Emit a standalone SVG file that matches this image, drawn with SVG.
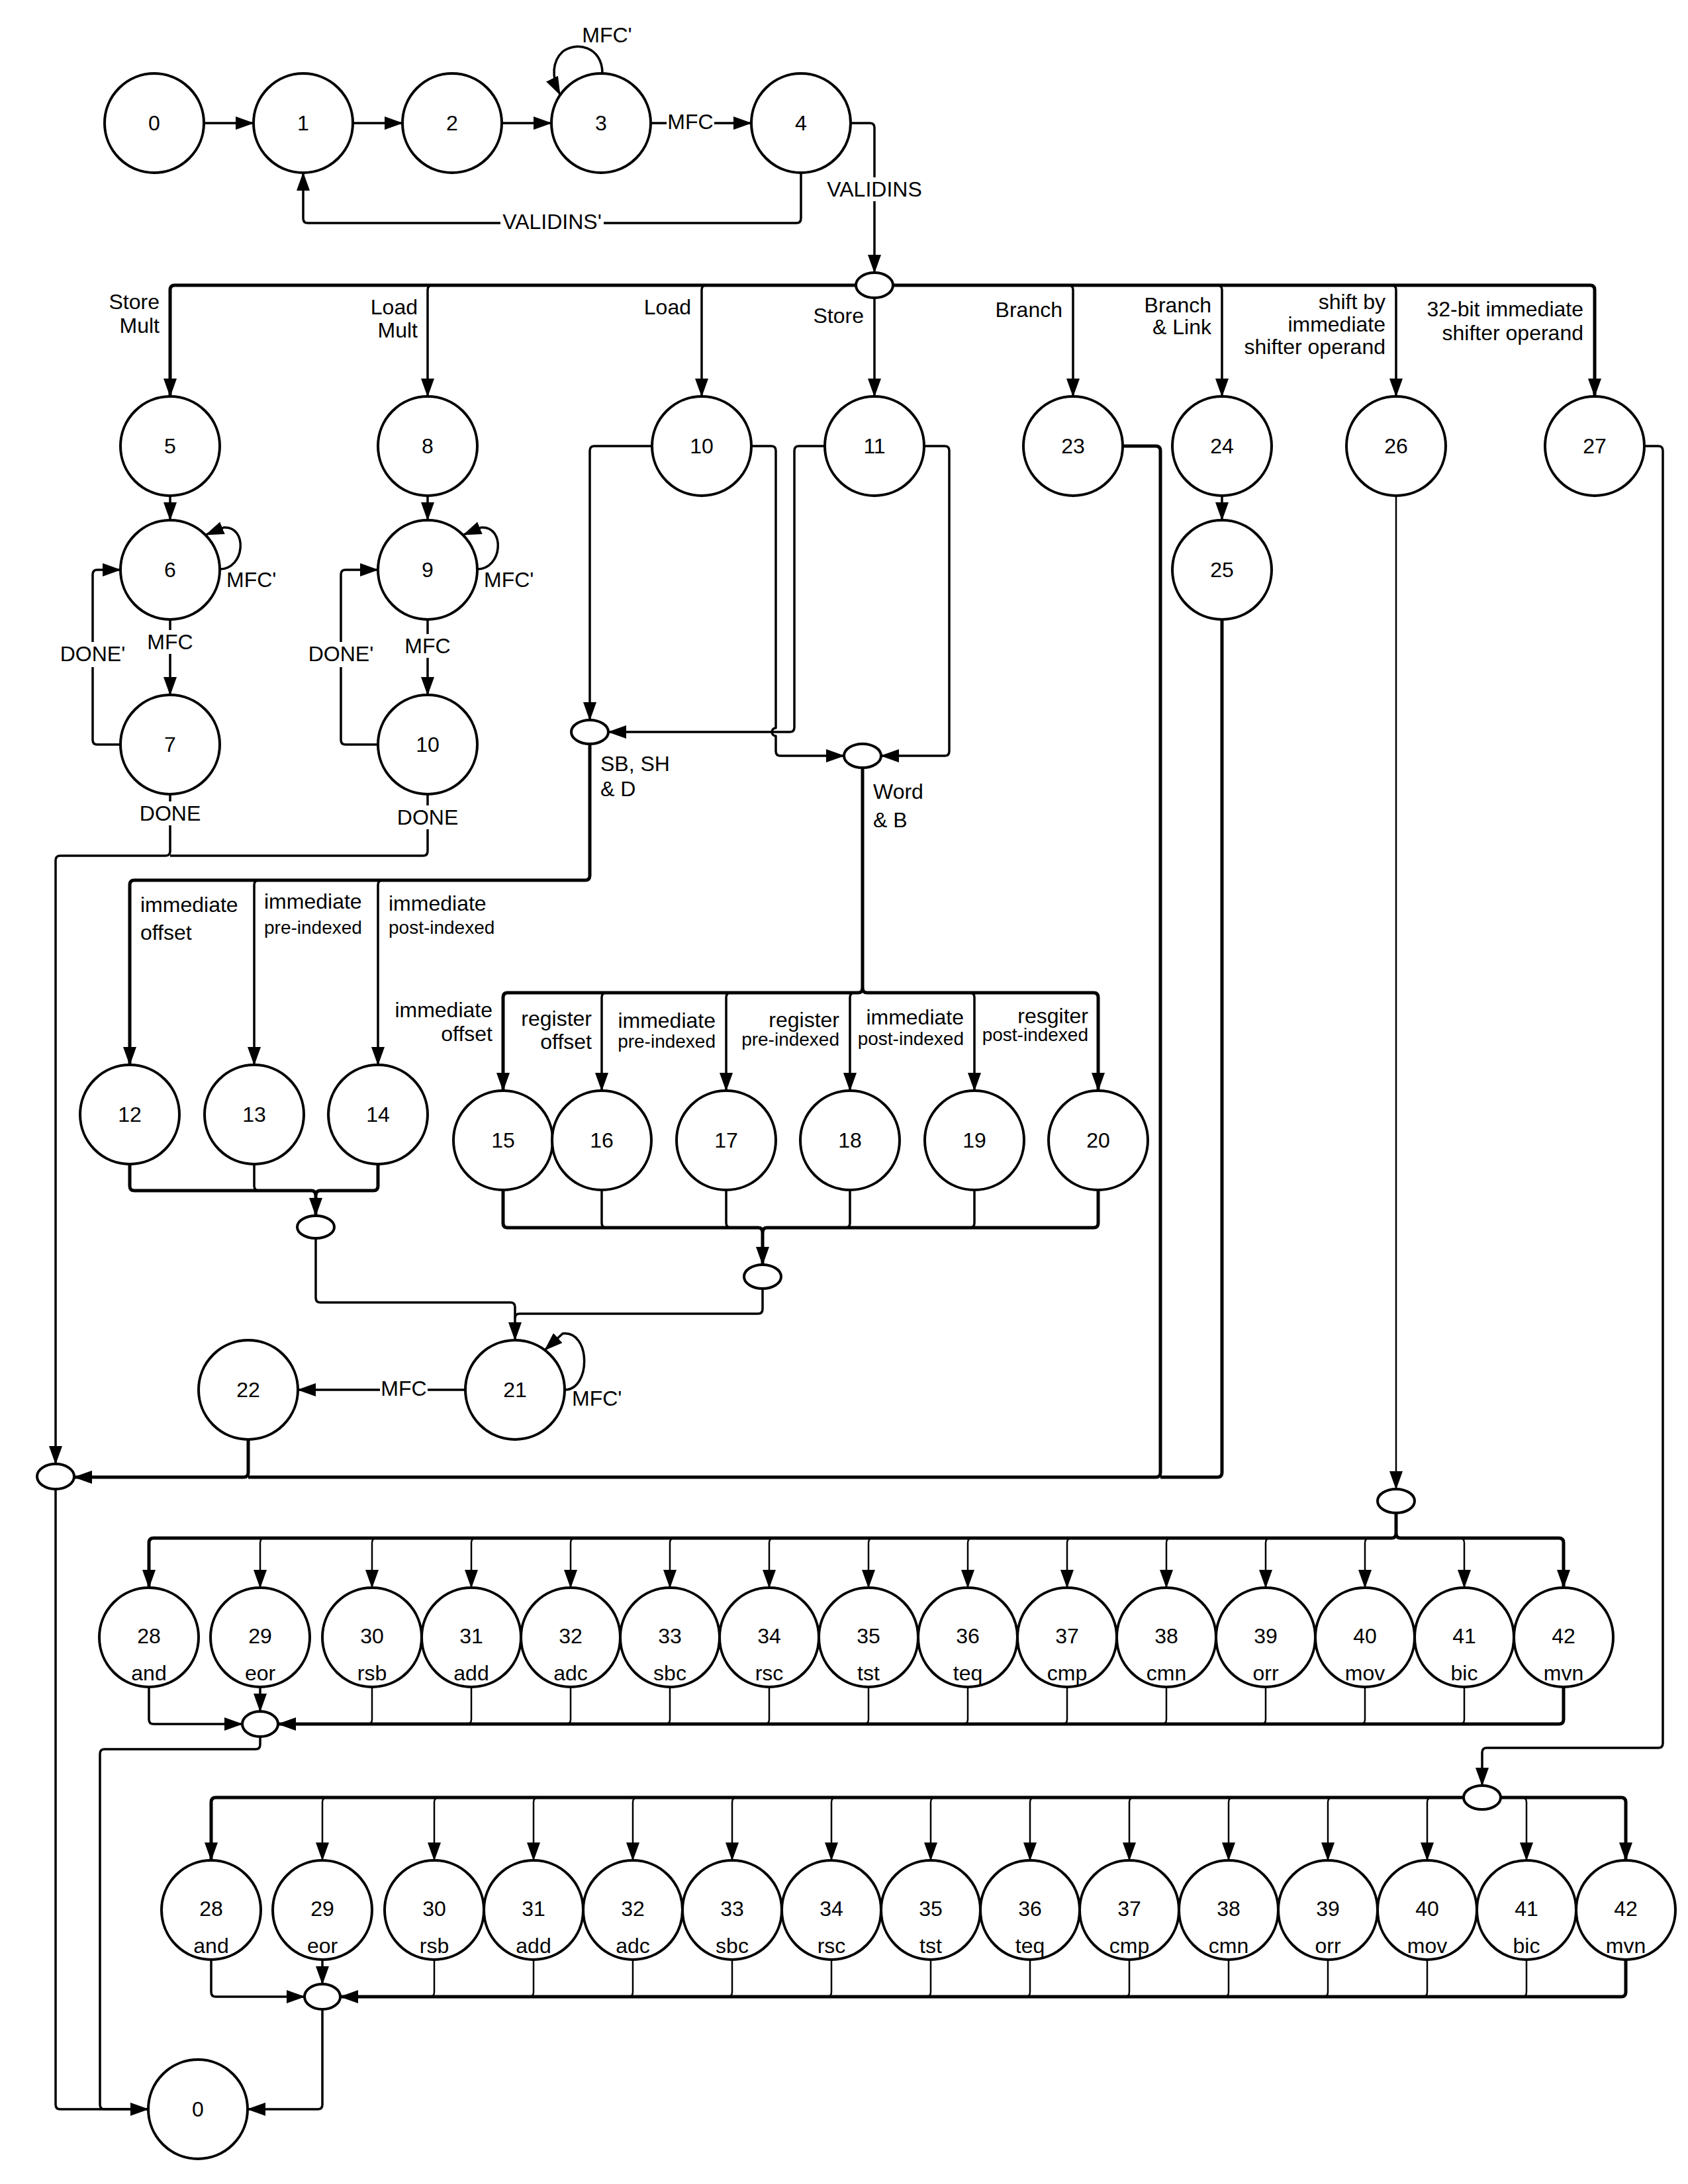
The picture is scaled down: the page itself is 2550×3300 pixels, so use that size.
<svg xmlns="http://www.w3.org/2000/svg" width="2550" height="3300" viewBox="0 0 2550 3300">
<defs>
  <marker id="ah" viewBox="0 0 28 20" refX="27" refY="10" markerWidth="28" markerHeight="20" markerUnits="userSpaceOnUse" orient="auto">
    <path d="M0,0 L28,10 L0,20 z" fill="#000"/>
  </marker>
  <style>
    .node circle, .node ellipse { fill:#fff; stroke:#000; stroke-width:4; }
    text { font-family:"Liberation Sans", Arial, Helvetica, sans-serif; font-size:32px; fill:#000; dominant-baseline:central; }
    .c { text-anchor:middle; }
    .r { text-anchor:end; }
    .l { text-anchor:start; }
    .sm { font-size:28px; }
    .bg { fill:#fff; stroke:none; }
    .wire { fill:none; stroke:#000; stroke-width:3.5; stroke-linejoin:round; stroke-linecap:butt; }
    .thin { stroke-width:2.5; }
    .bus { stroke-width:5; }
    .arr { marker-end:url(#ah); }
  </style>
</defs>
<rect width="2550" height="3300" fill="#fff"/>

<!-- ===== connectors ===== -->
<g id="connectors">
  <!-- fetch sequence -->
  <path class="wire arr" d="M308,186 H383"/>
  <path class="wire arr" d="M533,186 H608"/>
  <path class="wire arr" d="M758,186 H833"/>
  <path class="wire arr" d="M983,186 H1135"/>
  <path class="wire arr" d="M910,111 C910,70 870,62 850,78 C835,92 832,115 846,143"/>
  <path class="wire arr" d="M1285,186 H1314 Q1321,186 1321,193 V412"/>
  <path class="wire arr" d="M1210,261 V330 Q1210,337 1203,337 H465 Q458,337 458,330 V261"/>

  <!-- decode fan-out -->
  <path class="wire bus arr" d="M1293,431 H264 Q257,431 257,438 V599"/>
  <path class="wire arr" d="M653,431 Q646,431 646,438 V599"/>
  <path class="wire arr" d="M1067,431 Q1060,431 1060,438 V599"/>
  <path class="wire arr" d="M1321,450 V599"/>
  <path class="wire bus arr" d="M1349,431 H2402 Q2409,431 2409,438 V599"/>
  <path class="wire arr" d="M1614,431 Q1621,431 1621,438 V599"/>
  <path class="wire arr" d="M1839,431 Q1846,431 1846,438 V599"/>
  <path class="wire arr" d="M2102,431 Q2109,431 2109,438 V599"/>

  <!-- store multiple -->
  <path class="wire arr" d="M257,749 V786"/>
  <path class="wire arr" d="M257,936 V1050"/>
  <path class="wire arr" d="M332,860 C370,860 375,795 338,797 L311,808"/>
  <path class="wire arr" d="M182,1125 H147 Q140,1125 140,1118 V868 Q140,861 147,861 H182"/>
  <path class="wire arr" d="M257,1200 V1286 Q257,1293 250,1293 H91 Q84,1293 84,1300 V2212"/>

  <!-- load multiple -->
  <path class="wire arr" d="M646,749 V786"/>
  <path class="wire arr" d="M646,936 V1050"/>
  <path class="wire arr" d="M721,860 C759,860 764,795 727,797 L700,808"/>
  <path class="wire arr" d="M571,1125 H522 Q515,1125 515,1118 V868 Q515,861 522,861 H571"/>
  <path class="wire" d="M646,1200 V1286 Q646,1293 639,1293 H257"/>

  <!-- load / store split -->
  <path class="wire arr" d="M985,674 H898 Q891,674 891,681 V1088"/>
  <path class="wire arr" d="M1135,674 H1165 Q1172,674 1172,681 V1100 A6,6 0 0 0 1172,1112 V1135 Q1172,1142 1179,1142 H1275"/>
  <path class="wire arr" d="M1246,674 H1207 Q1200,674 1200,681 V1099 Q1200,1106 1193,1106 H919"/>
  <path class="wire arr" d="M1396,674 H1427 Q1434,674 1434,681 V1135 Q1434,1142 1427,1142 H1331"/>

  <!-- SB, SH & D addressing modes -->
  <path class="wire bus arr" d="M891,1124 V1323 Q891,1330 884,1330 H203 Q196,1330 196,1337 V1609"/>
  <path class="wire arr" d="M391,1330 Q384,1330 384,1337 V1609"/>
  <path class="wire arr" d="M578,1330 Q571,1330 571,1337 V1609"/>

  <!-- Word & B addressing modes -->
  <path class="wire bus arr" d="M1303,1160 V1493 Q1303,1500 1296,1500 H767 Q760,1500 760,1507 V1648"/>
  <path class="wire bus arr" d="M1303,1493 Q1303,1500 1310,1500 H1652 Q1659,1500 1659,1507 V1648"/>
  <path class="wire arr" d="M916,1500 Q909,1500 909,1507 V1648"/>
  <path class="wire arr" d="M1104,1500 Q1097,1500 1097,1507 V1648"/>
  <path class="wire arr" d="M1291,1500 Q1284,1500 1284,1507 V1648"/>
  <path class="wire arr" d="M1465,1500 Q1472,1500 1472,1507 V1648"/>

  <!-- merge 12-14 -->
  <path class="wire bus arr" d="M196,1759 V1792 Q196,1799 203,1799 H470 Q477,1799 477,1806 V1837"/>
  <path class="wire" d="M384,1759 V1792 Q384,1799 391,1799"/>
  <path class="wire bus" d="M571,1759 V1792 Q571,1799 564,1799 H484 Q477,1799 477,1806"/>
  <path class="wire arr" d="M477,1871 V1961 Q477,1968 484,1968 H771 Q778,1968 778,1975 V2025"/>

  <!-- merge 15-20 -->
  <path class="wire bus arr" d="M760,1798 V1848 Q760,1855 767,1855 H1145 Q1152,1855 1152,1862 V1911"/>
  <path class="wire bus" d="M1659,1798 V1848 Q1659,1855 1652,1855 H1159 Q1152,1855 1152,1862"/>
  <path class="wire" d="M909,1798 V1848 Q909,1855 916,1855"/>
  <path class="wire" d="M1097,1798 V1848 Q1097,1855 1104,1855"/>
  <path class="wire" d="M1284,1798 V1848 Q1284,1855 1277,1855"/>
  <path class="wire" d="M1472,1798 V1848 Q1472,1855 1465,1855"/>
  <path class="wire" d="M1152,1947 V1978 Q1152,1985 1145,1985 H785 Q778,1985 778,1992"/>

  <!-- memory access -->
  <path class="wire arr" d="M703,2100 H450"/>
  <path class="wire arr" d="M853,2100 C893,2100 893,2010 850,2015 L823,2040"/>
  <path class="wire bus arr" d="M375,2175 V2225 Q375,2232 368,2232 H112"/>

  <!-- branch returns -->
  <path class="wire bus" d="M1696,674 H1746 Q1753,674 1753,681 V2225 Q1753,2232 1746,2232 H375"/>
  <path class="wire arr" d="M1846,749 V786"/>
  <path class="wire bus" d="M1846,936 V2225 Q1846,2232 1839,2232 H1753"/>

  <!-- back to fetch -->
  <path class="wire arr" d="M84,2250 V3180 Q84,3187 91,3187 H224"/>

  <!-- data processing, shifted operand -->
  <path class="wire thin arr" d="M2109,749 V2250"/>
  <path class="wire bus arr" d="M2109,2286 V2317 Q2109,2324 2102,2324 H232 Q225,2324 225,2331 V2399"/>
  <path class="wire bus arr" d="M2109,2317 Q2109,2324 2116,2324 H2355 Q2362,2324 2362,2331 V2399"/>
  <path class="wire thin arr" d="M400,2324 Q393,2324 393,2331 V2399"/>
  <path class="wire thin arr" d="M569,2324 Q562,2324 562,2331 V2399"/>
  <path class="wire thin arr" d="M719,2324 Q712,2324 712,2331 V2399"/>
  <path class="wire thin arr" d="M869,2324 Q862,2324 862,2331 V2399"/>
  <path class="wire thin arr" d="M1019,2324 Q1012,2324 1012,2331 V2399"/>
  <path class="wire thin arr" d="M1169,2324 Q1162,2324 1162,2331 V2399"/>
  <path class="wire thin arr" d="M1319,2324 Q1312,2324 1312,2331 V2399"/>
  <path class="wire thin arr" d="M1469,2324 Q1462,2324 1462,2331 V2399"/>
  <path class="wire thin arr" d="M1619,2324 Q1612,2324 1612,2331 V2399"/>
  <path class="wire thin arr" d="M1769,2324 Q1762,2324 1762,2331 V2399"/>
  <path class="wire thin arr" d="M1919,2324 Q1912,2324 1912,2331 V2399"/>
  <path class="wire thin arr" d="M2069,2324 Q2062,2324 2062,2331 V2399"/>
  <path class="wire thin arr" d="M2205,2324 Q2212,2324 2212,2331 V2399"/>

  <path class="wire arr" d="M225,2549 V2598 Q225,2605 232,2605 H366"/>
  <path class="wire arr" d="M393,2549 V2586"/>
  <path class="wire bus arr" d="M2362,2549 V2598 Q2362,2605 2355,2605 H420"/>
  <path class="wire thin" d="M562,2549 V2598 Q562,2605 555,2605"/>
  <path class="wire thin" d="M712,2549 V2598 Q712,2605 705,2605"/>
  <path class="wire thin" d="M862,2549 V2598 Q862,2605 855,2605"/>
  <path class="wire thin" d="M1012,2549 V2598 Q1012,2605 1005,2605"/>
  <path class="wire thin" d="M1162,2549 V2598 Q1162,2605 1155,2605"/>
  <path class="wire thin" d="M1312,2549 V2598 Q1312,2605 1305,2605"/>
  <path class="wire thin" d="M1462,2549 V2598 Q1462,2605 1455,2605"/>
  <path class="wire thin" d="M1612,2549 V2598 Q1612,2605 1605,2605"/>
  <path class="wire thin" d="M1762,2549 V2598 Q1762,2605 1755,2605"/>
  <path class="wire thin" d="M1912,2549 V2598 Q1912,2605 1905,2605"/>
  <path class="wire thin" d="M2062,2549 V2598 Q2062,2605 2055,2605"/>
  <path class="wire thin" d="M2212,2549 V2598 Q2212,2605 2205,2605"/>
  <path class="wire" d="M393,2624 V2636 Q393,2643 386,2643 H158 Q151,2643 151,2650 V3180 Q151,3187 158,3187 H224"/>

  <!-- data processing, 32-bit immediate operand -->
  <path class="wire arr" d="M2484,674 H2505 Q2512,674 2512,681 V2634 Q2512,2641 2505,2641 H2246 Q2239,2641 2239,2648 V2698"/>
  <path class="wire bus arr" d="M2211,2716 H326 Q319,2716 319,2723 V2811"/>
  <path class="wire bus arr" d="M2267,2716 H2449 Q2456,2716 2456,2723 V2811"/>
  <path class="wire thin arr" d="M494,2716 Q487,2716 487,2723 V2811"/>
  <path class="wire thin arr" d="M663,2716 Q656,2716 656,2723 V2811"/>
  <path class="wire thin arr" d="M813,2716 Q806,2716 806,2723 V2811"/>
  <path class="wire thin arr" d="M963,2716 Q956,2716 956,2723 V2811"/>
  <path class="wire thin arr" d="M1113,2716 Q1106,2716 1106,2723 V2811"/>
  <path class="wire thin arr" d="M1263,2716 Q1256,2716 1256,2723 V2811"/>
  <path class="wire thin arr" d="M1413,2716 Q1406,2716 1406,2723 V2811"/>
  <path class="wire thin arr" d="M1563,2716 Q1556,2716 1556,2723 V2811"/>
  <path class="wire thin arr" d="M1713,2716 Q1706,2716 1706,2723 V2811"/>
  <path class="wire thin arr" d="M1863,2716 Q1856,2716 1856,2723 V2811"/>
  <path class="wire thin arr" d="M2013,2716 Q2006,2716 2006,2723 V2811"/>
  <path class="wire thin arr" d="M2163,2716 Q2156,2716 2156,2723 V2811"/>
  <path class="wire thin arr" d="M2299,2716 Q2306,2716 2306,2723 V2811"/>

  <path class="wire arr" d="M319,2961 V3010 Q319,3017 326,3017 H460"/>
  <path class="wire arr" d="M487,2961 V2998"/>
  <path class="wire bus arr" d="M2456,2961 V3010 Q2456,3017 2449,3017 H514"/>
  <path class="wire thin" d="M656,2961 V3010 Q656,3017 649,3017"/>
  <path class="wire thin" d="M806,2961 V3010 Q806,3017 799,3017"/>
  <path class="wire thin" d="M956,2961 V3010 Q956,3017 949,3017"/>
  <path class="wire thin" d="M1106,2961 V3010 Q1106,3017 1099,3017"/>
  <path class="wire thin" d="M1256,2961 V3010 Q1256,3017 1249,3017"/>
  <path class="wire thin" d="M1406,2961 V3010 Q1406,3017 1399,3017"/>
  <path class="wire thin" d="M1556,2961 V3010 Q1556,3017 1549,3017"/>
  <path class="wire thin" d="M1706,2961 V3010 Q1706,3017 1699,3017"/>
  <path class="wire thin" d="M1856,2961 V3010 Q1856,3017 1849,3017"/>
  <path class="wire thin" d="M2006,2961 V3010 Q2006,3017 1999,3017"/>
  <path class="wire thin" d="M2156,2961 V3010 Q2156,3017 2149,3017"/>
  <path class="wire thin" d="M2306,2961 V3010 Q2306,3017 2299,3017"/>
  <path class="wire arr" d="M487,3036 V3180 Q487,3187 480,3187 H374"/>
</g>

<!-- ===== edge labels ===== -->
<g id="edge-labels">
  <!-- white backing where a label sits on its line -->
  <rect class="bg" x="1007" y="172" width="72" height="28"/>
  <rect class="bg" x="1245" y="268" width="152" height="36"/>
  <rect class="bg" x="756" y="323" width="156" height="28"/>
  <rect class="bg" x="221" y="952" width="72" height="36"/>
  <rect class="bg" x="88" y="970" width="104" height="38"/>
  <rect class="bg" x="209" y="1211" width="96" height="36"/>
  <rect class="bg" x="610" y="958" width="72" height="36"/>
  <rect class="bg" x="463" y="970" width="104" height="38"/>
  <rect class="bg" x="598" y="1217" width="96" height="36"/>
  <rect class="bg" x="574" y="2086" width="72" height="28"/>

  <text class="c" x="917" y="53">MFC'</text>
  <text class="c" x="1043" y="184">MFC</text>
  <text class="c" x="1321" y="286">VALIDINS</text>
  <text class="c" x="834" y="335">VALIDINS'</text>

  <text class="r" x="241" y="456">Store</text>
  <text class="r" x="241" y="492">Mult</text>
  <text class="r" x="631" y="464">Load</text>
  <text class="r" x="631" y="499">Mult</text>
  <text class="r" x="1044" y="464">Load</text>
  <text class="r" x="1305" y="477">Store</text>
  <text class="r" x="1605" y="468">Branch</text>
  <text class="r" x="1830" y="461">Branch</text>
  <text class="r" x="1830" y="494">&amp; Link</text>
  <text class="r" x="2093" y="456">shift by</text>
  <text class="r" x="2093" y="490">immediate</text>
  <text class="r" x="2093" y="524">shifter operand</text>
  <text class="r" x="2392" y="467">32-bit immediate</text>
  <text class="r" x="2392" y="503">shifter operand</text>

  <text class="l" x="342" y="876">MFC'</text>
  <text class="c" x="257" y="970">MFC</text>
  <text class="c" x="140" y="988">DONE'</text>
  <text class="c" x="257" y="1229">DONE</text>
  <text class="l" x="731" y="876">MFC'</text>
  <text class="c" x="646" y="976">MFC</text>
  <text class="c" x="515" y="988">DONE'</text>
  <text class="c" x="646" y="1235">DONE</text>

  <text class="l" x="907" y="1154">SB, SH</text>
  <text class="l" x="907" y="1192">&amp; D</text>
  <text class="l" x="1319" y="1196">Word</text>
  <text class="l" x="1319" y="1239">&amp; B</text>

  <text class="l" x="212" y="1367">immediate</text>
  <text class="l" x="212" y="1409">offset</text>
  <text class="l" x="399" y="1362">immediate</text>
  <text class="l sm" x="399" y="1401">pre-indexed</text>
  <text class="l" x="587" y="1365">immediate</text>
  <text class="l sm" x="587" y="1401">post-indexed</text>

  <text class="r" x="744" y="1526">immediate</text>
  <text class="r" x="744" y="1562">offset</text>
  <text class="r" x="894" y="1539">register</text>
  <text class="r" x="894" y="1574">offset</text>
  <text class="r" x="1081" y="1542">immediate</text>
  <text class="r sm" x="1081" y="1573">pre-indexed</text>
  <text class="r" x="1268" y="1541">register</text>
  <text class="r sm" x="1268" y="1570">pre-indexed</text>
  <text class="r" x="1456" y="1537">immediate</text>
  <text class="r sm" x="1456" y="1569">post-indexed</text>
  <text class="r" x="1644" y="1535">resgiter</text>
  <text class="r sm" x="1644" y="1563">post-indexed</text>

  <text class="c" x="610" y="2098">MFC</text>
  <text class="l" x="864" y="2113">MFC'</text>
</g>

<!-- ===== states ===== -->
<g id="s0" class="node"><circle cx="233" cy="186" r="75"/><text class="c" x="233" y="186">0</text></g>
<g id="s1" class="node"><circle cx="458" cy="186" r="75"/><text class="c" x="458" y="186">1</text></g>
<g id="s2" class="node"><circle cx="683" cy="186" r="75"/><text class="c" x="683" y="186">2</text></g>
<g id="s3" class="node"><circle cx="908" cy="186" r="75"/><text class="c" x="908" y="186">3</text></g>
<g id="s4" class="node"><circle cx="1210" cy="186" r="75"/><text class="c" x="1210" y="186">4</text></g>
<g id="j-decode" class="node"><ellipse cx="1321" cy="431" rx="28" ry="19"/></g>

<g id="s5" class="node"><circle cx="257" cy="674" r="75"/><text class="c" x="257" y="674">5</text></g>
<g id="s6" class="node"><circle cx="257" cy="861" r="75"/><text class="c" x="257" y="861">6</text></g>
<g id="s7" class="node"><circle cx="257" cy="1125" r="75"/><text class="c" x="257" y="1125">7</text></g>
<g id="s8" class="node"><circle cx="646" cy="674" r="75"/><text class="c" x="646" y="674">8</text></g>
<g id="s9" class="node"><circle cx="646" cy="861" r="75"/><text class="c" x="646" y="861">9</text></g>
<g id="s10-ldm" class="node"><circle cx="646" cy="1125" r="75"/><text class="c" x="646" y="1125">10</text></g>
<g id="s10" class="node"><circle cx="1060" cy="674" r="75"/><text class="c" x="1060" y="674">10</text></g>
<g id="s11" class="node"><circle cx="1321" cy="674" r="75"/><text class="c" x="1321" y="674">11</text></g>
<g id="s23" class="node"><circle cx="1621" cy="674" r="75"/><text class="c" x="1621" y="674">23</text></g>
<g id="s24" class="node"><circle cx="1846" cy="674" r="75"/><text class="c" x="1846" y="674">24</text></g>
<g id="s25" class="node"><circle cx="1846" cy="861" r="75"/><text class="c" x="1846" y="861">25</text></g>
<g id="s26" class="node"><circle cx="2109" cy="674" r="75"/><text class="c" x="2109" y="674">26</text></g>
<g id="s27" class="node"><circle cx="2409" cy="674" r="75"/><text class="c" x="2409" y="674">27</text></g>

<g id="j-sbshd" class="node"><ellipse cx="891" cy="1106" rx="28" ry="18"/></g>
<g id="j-wordb" class="node"><ellipse cx="1303" cy="1142" rx="28" ry="18"/></g>

<g id="s12" class="node"><circle cx="196" cy="1684" r="75"/><text class="c" x="196" y="1684">12</text></g>
<g id="s13" class="node"><circle cx="384" cy="1684" r="75"/><text class="c" x="384" y="1684">13</text></g>
<g id="s14" class="node"><circle cx="571" cy="1684" r="75"/><text class="c" x="571" y="1684">14</text></g>
<g id="s15" class="node"><circle cx="760" cy="1723" r="75"/><text class="c" x="760" y="1723">15</text></g>
<g id="s16" class="node"><circle cx="909" cy="1723" r="75"/><text class="c" x="909" y="1723">16</text></g>
<g id="s17" class="node"><circle cx="1097" cy="1723" r="75"/><text class="c" x="1097" y="1723">17</text></g>
<g id="s18" class="node"><circle cx="1284" cy="1723" r="75"/><text class="c" x="1284" y="1723">18</text></g>
<g id="s19" class="node"><circle cx="1472" cy="1723" r="75"/><text class="c" x="1472" y="1723">19</text></g>
<g id="s20" class="node"><circle cx="1659" cy="1723" r="75"/><text class="c" x="1659" y="1723">20</text></g>

<g id="j-imm" class="node"><ellipse cx="477" cy="1854" rx="28" ry="17"/></g>
<g id="j-reg" class="node"><ellipse cx="1152" cy="1929" rx="28" ry="18"/></g>

<g id="s21" class="node"><circle cx="778" cy="2100" r="75"/><text class="c" x="778" y="2100">21</text></g>
<g id="s22" class="node"><circle cx="375" cy="2100" r="75"/><text class="c" x="375" y="2100">22</text></g>
<g id="j-done" class="node"><ellipse cx="84" cy="2231" rx="28" ry="19"/></g>
<g id="j-shift" class="node"><ellipse cx="2109" cy="2268" rx="28" ry="18"/></g>

<!-- data-processing states, shifted operand -->
<g id="a28" class="node"><circle cx="225" cy="2474" r="75"/><text class="c" x="225" y="2472">28</text><text class="c" x="225" y="2528">and</text></g>
<g id="a29" class="node"><circle cx="393" cy="2474" r="75"/><text class="c" x="393" y="2472">29</text><text class="c" x="393" y="2528">eor</text></g>
<g id="a30" class="node"><circle cx="562" cy="2474" r="75"/><text class="c" x="562" y="2472">30</text><text class="c" x="562" y="2528">rsb</text></g>
<g id="a31" class="node"><circle cx="712" cy="2474" r="75"/><text class="c" x="712" y="2472">31</text><text class="c" x="712" y="2528">add</text></g>
<g id="a32" class="node"><circle cx="862" cy="2474" r="75"/><text class="c" x="862" y="2472">32</text><text class="c" x="862" y="2528">adc</text></g>
<g id="a33" class="node"><circle cx="1012" cy="2474" r="75"/><text class="c" x="1012" y="2472">33</text><text class="c" x="1012" y="2528">sbc</text></g>
<g id="a34" class="node"><circle cx="1162" cy="2474" r="75"/><text class="c" x="1162" y="2472">34</text><text class="c" x="1162" y="2528">rsc</text></g>
<g id="a35" class="node"><circle cx="1312" cy="2474" r="75"/><text class="c" x="1312" y="2472">35</text><text class="c" x="1312" y="2528">tst</text></g>
<g id="a36" class="node"><circle cx="1462" cy="2474" r="75"/><text class="c" x="1462" y="2472">36</text><text class="c" x="1462" y="2528">teq</text></g>
<g id="a37" class="node"><circle cx="1612" cy="2474" r="75"/><text class="c" x="1612" y="2472">37</text><text class="c" x="1612" y="2528">cmp</text></g>
<g id="a38" class="node"><circle cx="1762" cy="2474" r="75"/><text class="c" x="1762" y="2472">38</text><text class="c" x="1762" y="2528">cmn</text></g>
<g id="a39" class="node"><circle cx="1912" cy="2474" r="75"/><text class="c" x="1912" y="2472">39</text><text class="c" x="1912" y="2528">orr</text></g>
<g id="a40" class="node"><circle cx="2062" cy="2474" r="75"/><text class="c" x="2062" y="2472">40</text><text class="c" x="2062" y="2528">mov</text></g>
<g id="a41" class="node"><circle cx="2212" cy="2474" r="75"/><text class="c" x="2212" y="2472">41</text><text class="c" x="2212" y="2528">bic</text></g>
<g id="a42" class="node"><circle cx="2362" cy="2474" r="75"/><text class="c" x="2362" y="2472">42</text><text class="c" x="2362" y="2528">mvn</text></g>
<g id="j-alu-a" class="node"><ellipse cx="393" cy="2605" rx="27" ry="19"/></g>

<!-- data-processing states, 32-bit immediate operand -->
<g id="j-imm32" class="node"><ellipse cx="2239" cy="2716" rx="28" ry="18"/></g>
<g id="b28" class="node"><circle cx="319" cy="2886" r="75"/><text class="c" x="319" y="2884">28</text><text class="c" x="319" y="2940">and</text></g>
<g id="b29" class="node"><circle cx="487" cy="2886" r="75"/><text class="c" x="487" y="2884">29</text><text class="c" x="487" y="2940">eor</text></g>
<g id="b30" class="node"><circle cx="656" cy="2886" r="75"/><text class="c" x="656" y="2884">30</text><text class="c" x="656" y="2940">rsb</text></g>
<g id="b31" class="node"><circle cx="806" cy="2886" r="75"/><text class="c" x="806" y="2884">31</text><text class="c" x="806" y="2940">add</text></g>
<g id="b32" class="node"><circle cx="956" cy="2886" r="75"/><text class="c" x="956" y="2884">32</text><text class="c" x="956" y="2940">adc</text></g>
<g id="b33" class="node"><circle cx="1106" cy="2886" r="75"/><text class="c" x="1106" y="2884">33</text><text class="c" x="1106" y="2940">sbc</text></g>
<g id="b34" class="node"><circle cx="1256" cy="2886" r="75"/><text class="c" x="1256" y="2884">34</text><text class="c" x="1256" y="2940">rsc</text></g>
<g id="b35" class="node"><circle cx="1406" cy="2886" r="75"/><text class="c" x="1406" y="2884">35</text><text class="c" x="1406" y="2940">tst</text></g>
<g id="b36" class="node"><circle cx="1556" cy="2886" r="75"/><text class="c" x="1556" y="2884">36</text><text class="c" x="1556" y="2940">teq</text></g>
<g id="b37" class="node"><circle cx="1706" cy="2886" r="75"/><text class="c" x="1706" y="2884">37</text><text class="c" x="1706" y="2940">cmp</text></g>
<g id="b38" class="node"><circle cx="1856" cy="2886" r="75"/><text class="c" x="1856" y="2884">38</text><text class="c" x="1856" y="2940">cmn</text></g>
<g id="b39" class="node"><circle cx="2006" cy="2886" r="75"/><text class="c" x="2006" y="2884">39</text><text class="c" x="2006" y="2940">orr</text></g>
<g id="b40" class="node"><circle cx="2156" cy="2886" r="75"/><text class="c" x="2156" y="2884">40</text><text class="c" x="2156" y="2940">mov</text></g>
<g id="b41" class="node"><circle cx="2306" cy="2886" r="75"/><text class="c" x="2306" y="2884">41</text><text class="c" x="2306" y="2940">bic</text></g>
<g id="b42" class="node"><circle cx="2456" cy="2886" r="75"/><text class="c" x="2456" y="2884">42</text><text class="c" x="2456" y="2940">mvn</text></g>
<g id="j-alu-b" class="node"><ellipse cx="487" cy="3017" rx="27" ry="19"/></g>

<g id="s0-end" class="node"><circle cx="299" cy="3187" r="75"/><text class="c" x="299" y="3187">0</text></g>
</svg>
